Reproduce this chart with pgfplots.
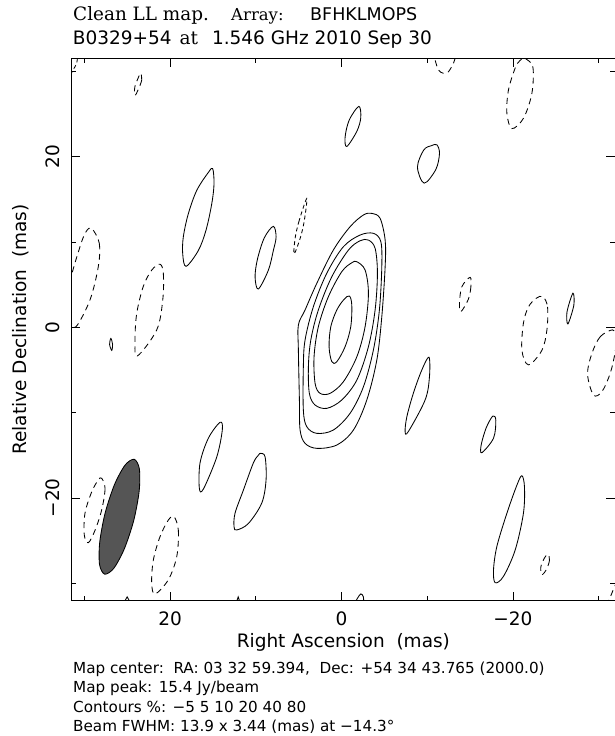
\documentclass[border=0pt]{standalone}
\usepackage{pgfplots}
\pgfplotsset{compat=1.18}
\usepackage{fontspec}
\setmainfont{DejaVu Sans}
\newfontfamily\titleserif{DejaVu Serif}
\definecolor{beamgray}{HTML}{555555}
\newcommand{\bigf}{\fontsize{18.5pt}{22pt}\selectfont}
\newcommand{\smallf}{\fontsize{15.2pt}{18pt}\selectfont}
\begin{document}
\begin{tikzpicture}
\path[use as bounding box] (-71.7pt,-135.3pt) rectangle (543.3pt,600.7pt);
\begin{axis}[
  at={(0pt,0pt)}, anchor=south west,
  scale only axis, width=543.3pt, height=542.4pt,
  x dir=reverse,
  xmin=-31.9, xmax=31.47, ymin=-32.05, ymax=31.54,
  xtick={-20,0,20}, xticklabels={−20,0,20},
  ytick={-20,0,20}, yticklabels={−20,0,20},
  minor xtick={-30,-10,10,30}, minor ytick={-30,-10,10,30},
  tick align=inside, tick pos=both,
  major tick length=8.5pt, minor tick length=4.5pt,
  every tick/.style={black, line width=0.8pt},
  axis line style={line width=0.9pt},
  xticklabel style={font=\bigf, anchor=base, yshift=-24.3pt},
  yticklabel style={font=\bigf, xshift=-11.7pt, rotate=90, anchor=base},
  every axis x label/.style={at={(axis description cs:0.5,0)}, anchor=base, yshift=-46.5pt, font=\bigf},
  every axis y label/.style={at={(axis description cs:0,0.5)}, xshift=-45.2pt, rotate=90, anchor=base, font=\bigf},
  xlabel={Right Ascension\ \ (mas)},
  ylabel={Relative Declination\ \ (mas)},
  solidc/.style={black, line width=0.85pt, smooth cycle, tension=0.55},
  dashc/.style={black, line width=0.85pt, smooth cycle, tension=0.55, dash pattern=on 6pt off 4.5pt},
]
% central source (5,10,20,40,80 %)
\addplot[solidc] coordinates {(-3.54,13.36)(-4.50,12.78)(-5.09,10.23)(-5.09,7.10)(-4.70,1.24)(-4.12,-3.83)(-2.95,-8.52)(-1.39,-12.04)(0.55,-13.80)(2.88,-14.19)(4.25,-13.60)(4.83,-12.04)(4.91,-8.52)(5.03,-2.66)(5.03,0.27)(4.25,2.03)(2.88,5.16)(0.95,9.06)(-1.00,11.79)(-2.56,13.17)};
\addplot[solidc] coordinates {(-3.72,11.02)(-4.59,10.04)(-4.70,7.10)(-4.42,2.03)(-3.72,-2.66)(-2.56,-6.96)(-1.00,-10.08)(0.95,-12.04)(2.88,-12.43)(4.05,-11.65)(4.45,-9.70)(4.45,-4.62)(4.25,-1.49)(3.28,2.42)(1.72,6.33)(-0.22,9.45)(-2.17,10.82)};
\addplot[solidc] coordinates {(-3.14,10.23)(-3.92,9.26)(-4.19,6.33)(-3.92,2.03)(-3.14,-2.27)(-1.79,-6.18)(-0.03,-8.52)(1.72,-9.50)(3.08,-9.11)(3.75,-7.74)(3.86,-4.62)(3.58,-1.49)(2.70,2.03)(1.13,5.93)(-0.81,9.06)(-2.17,10.15)};
\addplot[solidc] coordinates {(-1.79,7.69)(-2.75,6.72)(-3.14,3.99)(-2.75,0.07)(-1.79,-3.45)(-0.22,-6.38)(1.33,-7.74)(2.50,-7.74)(3.08,-6.57)(3.20,-3.45)(2.70,0.07)(1.53,3.59)(-0.03,6.52)(-1.20,7.57)};
\addplot[solidc] coordinates {(-0.92,3.67)(-1.20,2.61)(-1.08,0.07)(-0.42,-2.27)(0.55,-4.03)(1.13,-4.03)(1.45,-2.27)(1.25,0.07)(0.55,2.03)(-0.30,3.28)};
% other positive contours
\addplot[solidc] coordinates {(-2.02,25.9)(-2.25,24.6)(-1.8,23.0)(-0.62,21.2)(-0.42,22.3)(-0.9,24.3)};
\addplot[solidc] coordinates {(15.02,18.6)(14.87,16.8)(15.13,14.5)(15.8,11.4)(16.7,9.0)(18.13,7.15)(18.52,8.6)(18.45,10.6)(17.87,13.3)(16.88,16.06)(15.5,18.2)};
\addplot[solidc] coordinates {(7.95,11.84)(7.63,10.6)(7.95,9.0)(8.53,6.7)(9.70,4.49)(10.08,5.9)(9.8,8.0)(9.0,10.5)};
\addplot[solidc] coordinates {(-11.12,21.4)(-11.43,20.4)(-11.0,18.5)(-9.64,16.9)(-8.86,18.8)(-9.6,20.8)(-10.5,21.3)};
\addplot[solidc] coordinates {(-26.99,4.0)(-27.1,2.6)(-26.41,0.4)(-26.3,1.8)};
\addplot[solidc] coordinates {(26.9,-1.3)(27.05,-2.0)(26.8,-2.7)(26.7,-2.0)};
\addplot[solidc] coordinates {(-10.2,-3.5)(-10.26,-5.8)(-9.76,-8.5)(-7.81,-12.2)(-7.42,-12.24)(-7.62,-10.5)(-8.39,-7.7)(-9.37,-5.0)};
\addplot[solidc] coordinates {(-17.65,-10.4)(-18.0,-10.9)(-17.73,-13.0)(-16.37,-14.7)(-16.29,-13.8)(-16.87,-11.8)};
\addplot[solidc] coordinates {(-21.04,-17.4)(-21.34,-18.7)(-21.22,-21.8)(-20.26,-26.1)(-18.89,-29.2)(-17.92,-29.94)(-17.73,-28.45)(-18.12,-25.7)(-19.29,-21.8)(-20.46,-18.5)};
\addplot[solidc] coordinates {(14.17,-11.14)(13.9,-12.0)(14.55,-15.2)(16.11,-18.96)(16.58,-18.87)(16.5,-15.9)(15.53,-13.0)};
\addplot[solidc] coordinates {(9.42,-14.77)(8.91,-15.2)(8.80,-17.9)(9.30,-20.6)(10.86,-23.0)(12.22,-23.76)(12.53,-23.4)(12.42,-21.8)(11.45,-19.1)(10.28,-15.9)(9.70,-15.0)};
\addplot[black, line width=0.85pt, smooth] coordinates {(-1.4,-32.6)(-1.9,-31.7)(-2.26,-31.25)(-2.55,-31.6)(-2.6,-32.6)};
\addplot[black, line width=0.85pt] coordinates {(11.75,-32.5)(12.05,-31.6)(12.35,-32.5)};
\addplot[black, line width=0.85pt] coordinates {(25.5,-32.5)(25.0,-31.6)(24.5,-32.5)};
% negative contours
\addplot[dashc] coordinates {(23.42,29.8)(23.3,29.0)(23.7,27.9)(24.08,27.2)(24.1,28.2)(23.6,29.5)};
\addplot[dashc] coordinates {(29.14,11.6)(28.25,9.85)(28.37,7.1)(29.34,3.2)(30.97,0.07)(31.6,1.0)(31.7,5.0)(30.5,9.45)(29.8,11.2)};
\addplot[dashc] coordinates {(21.17,7.4)(20.78,6.3)(20.85,3.2)(21.55,-0.3)(23.82,-3.36)(24.08,-1.5)(23.89,1.6)(23.12,4.8)(22.14,6.7)};
\addplot[dashc, dash pattern=on 4pt off 3pt] coordinates {(4.05,15.1)(4.94,12.5)(5.40,10.5)(5.53,8.6)(4.80,10.5)(4.34,12.5)};
\addplot[black, line width=0.85pt, smooth, dash pattern=on 6pt off 4.5pt] coordinates {(-10.7,32.5)(-10.92,31.34)(-11.31,30.16)(-11.89,29.78)(-12.47,29.96)(-13.06,30.95)(-13.26,31.54)(-13.4,32.5)};
\addplot[dashc] coordinates {(-21.42,31.5)(-22.32,30.5)(-22.2,27.4)(-21.22,24.5)(-19.87,23.3)(-19.29,25.1)(-19.47,27.8)(-20.26,30.4)(-20.84,31.3)};
\addplot[dashc] coordinates {(-15.0,5.86)(-15.09,4.76)(-14.8,3.3)(-13.92,1.83)(-13.76,2.81)(-14.04,4.76)};
\addplot[dashc] coordinates {(-23.49,3.6)(-24.03,2.4)(-23.96,-0.3)(-23.37,-2.7)(-21.81,-4.4)(-21.04,-2.7)(-21.22,0.5)(-21.81,2.4)(-22.7,3.4)};
\addplot[dashc] coordinates {(-31.6,-0.3)(-30.18,-1.1)(-29.21,-3.05)(-28.7,-5.5)(-29.39,-7.94)(-30.37,-7.55)(-31.34,-5.4)(-31.9,-3.0)(-32.1,-1.0)};
\addplot[dashc] coordinates {(-24.07,-26.6)(-24.26,-27.3)(-23.9,-28.4)(-23.37,-29.0)(-23.25,-28.1)(-23.64,-27.1)};
\addplot[black, line width=0.85pt, smooth, dash pattern=on 6pt off 4.5pt] coordinates {(-30.9,-32.6)(-31.4,-31.5)(-31.9,-30.3)(-32.4,-29.6)};
\addplot[dashc] coordinates {(27.97,-17.7)(27.58,-18.9)(27.97,-21.4)(28.75,-23.8)(29.53,-25.25)(30.0,-24.35)(29.92,-21.8)(29.14,-19.3)(28.37,-17.9)};
\addplot[dashc] coordinates {(19.53,-22.2)(19.03,-23.8)(19.22,-26.9)(20.2,-29.6)(21.75,-31.27)(22.14,-30.0)(21.95,-27.3)(21.17,-24.55)(20.2,-22.6)};
\addplot[black, line width=0.85pt, smooth, dash pattern=on 4pt off 3pt] coordinates {(31.6,29.6)(31.3,30.2)(30.9,30.9)(30.8,31.6)};
% restoring beam
\addplot[fill=beamgray, draw=black, line width=0.85pt, smooth cycle] coordinates {(24.18,-15.47)(25.25,-16.16)(26.49,-18.47)(27.57,-21.78)(28.20,-25.20)(28.22,-27.82)(27.62,-28.94)(26.55,-28.24)(25.32,-25.94)(24.23,-22.63)(23.60,-19.20)(23.58,-16.58)};
\end{axis}
% titles
\node[anchor=base west, inner sep=0pt, font=\titleserif\fontsize{18.4pt}{22pt}\selectfont] at (1.3pt,579.7pt) {Clean LL map.};
\node[anchor=base west, inner sep=0pt, font=\titleserif\fontsize{16.5pt}{20pt}\selectfont] at (159.3pt,579.7pt) {Array:};
\node[anchor=base west, inner sep=0pt, font=\fontsize{17.5pt}{20pt}\selectfont] at (238.3pt,579.7pt) {BFHKLMOPS};
\node[anchor=base west, inner sep=0pt, font=\bigf] at (1.0pt,555.7pt) {B0329+54};
\node[anchor=base west, inner sep=0pt, font=\titleserif\fontsize{18.5pt}{22pt}\selectfont] at (107.7pt,555.7pt) {at};
\node[anchor=base west, inner sep=0pt, font=\bigf] at (140.1pt,555.7pt) {1.546 GHz 2010 Sep 30};
% footer
\node[anchor=base west, inner sep=0pt, font=\smallf] at (1.3pt,-72.3pt) {Map center:\ \ RA: 03 32 59.394,\ \ Dec: +54 34 43.765 (2000.0)};
\node[anchor=base west, inner sep=0pt, font=\smallf] at (1.3pt,-91.8pt) {Map peak: 15.4 Jy/beam};
\node[anchor=base west, inner sep=0pt, font=\smallf] at (1.3pt,-111.3pt) {Contours \%: −5 5 10 20 40 80};
\node[anchor=base west, inner sep=0pt, font=\smallf] at (1.3pt,-130.8pt) {Beam FWHM: 13.9 x 3.44 (mas) at −14.3°};
\end{tikzpicture}
\end{document}
